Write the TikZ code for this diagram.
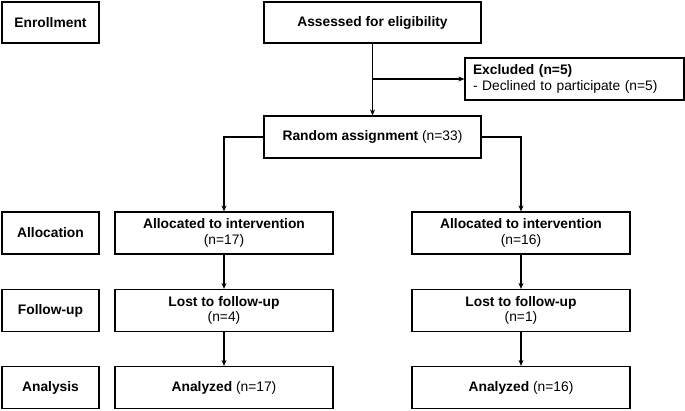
\documentclass[tikz,border=0pt]{standalone}
\usepackage{fontspec}
\setmainfont{Liberation Sans}
\usetikzlibrary{arrows.meta}
\begin{document}
\begin{tikzpicture}[x=1pt,y=1pt,
  box/.style={draw=black, line width=1.2pt, fill=white, inner sep=0pt, align=center,
    font=\fontsize{13.8}{15.5}\selectfont, minimum height=41pt},
  lab/.style={box, minimum width=97pt, font=\fontsize{13.8}{15.5}\selectfont\bfseries},
  wide/.style={box, minimum width=217pt},
  arm/.style={box, minimum width=218pt, minimum height=42pt},
  conn/.style={draw=black, line width=1.2pt, -{Stealth[length=6pt,width=5pt]}},
  plain/.style={draw=black, line width=1.2pt}]
\useasboundingbox (0,0) rectangle (685,410);
% row labels
\node[lab] (enroll) at (50.5,387.5) {Enrollment};
\node[lab, minimum height=42pt] (allocl) at (50.5,177) {Allocation};
\node[lab, minimum height=42pt] (followl) at (50.5,99.5) {Follow-up};
\node[lab, minimum height=42pt] (analysisl) at (50.5,22.5) {Analysis};
% top
\node[wide] (assess) at (372.5,387.5) {\textbf{Assessed for eligibility}};
\node[box, minimum width=219pt, minimum height=42pt, text width=203pt, align=left, inner xsep=8pt] (excl) at (574.5,331) {\textbf{Excluded (n=5)}\\- Declined to participate (n=5)};
\node[wide, minimum height=42pt] (random) at (372.5,273) {\textbf{Random assignment} (n=33)};
% arms
\node[arm] (allocA) at (224,177) {\textbf{Allocated to intervention}\\(n=17)};
\node[arm] (allocB) at (521,177) {\textbf{Allocated to intervention}\\(n=16)};
\node[arm] (lostA) at (224,99.5) {\textbf{Lost to follow-up}\\(n=4)};
\node[arm] (lostB) at (521,99.5) {\textbf{Lost to follow-up}\\(n=1)};
\node[arm] (anaA) at (224,22.5) {\textbf{Analyzed} (n=17)};
\node[arm] (anaB) at (521,22.5) {\textbf{Analyzed} (n=16)};
% connectors
\draw[conn] (assess.south) -- (random.north);
\coordinate (branch) at (assess.south |- excl.west);
\draw[conn] (branch) -- (excl.west);
\draw[conn] (random.west) -| (allocA.north);
\draw[conn] (random.east) -| (allocB.north);
\draw[conn] (allocA) -- (lostA);
\draw[conn] (allocB) -- (lostB);
\draw[conn] (lostA) -- (anaA);
\draw[conn] (lostB) -- (anaB);
\end{tikzpicture}
\end{document}
